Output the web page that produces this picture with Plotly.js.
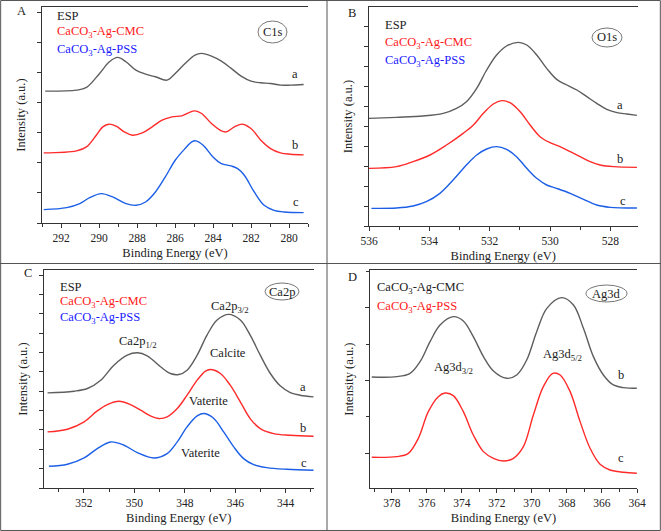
<!DOCTYPE html>
<html><head><meta charset="utf-8">
<script src="https://cdn.plot.ly/plotly-3.0.1.min.js"></script>
<style>html,body{margin:0;padding:0;background:#fff}#chart{width:661px;height:531px}</style>
</head><body><div id="chart"></div>
<script>
// ---------- Panel A : C1s ----------
const c1s_E_a = [292.83,291.18,290.66,289.97,289.45,289.02,288.58,288.06,287.55,287.03,286.42,285.99,285.47,284.95,284.60,284.08,283.56,283.04,282.52,282.00,281.48,280.97,280.45,279.93,279.23];
const c1s_I_a = [395,398,406,448,483,496,483,458,446,438,428,448,478,503,508,500,485,463,440,425,420,418,413,413,415];
const c1s_E_b = [292.91,291.18,290.66,290.14,289.80,289.48,289.10,288.67,288.24,287.72,287.20,286.68,286.16,285.64,285.29,284.95,284.60,284.08,283.56,283.30,282.87,282.44,282.00,281.48,280.97,280.45,279.93,279.23];
const c1s_I_b = [210,216,228,263,288,296,290,273,263,270,288,308,318,321,330,336,328,298,276,273,288,296,283,248,223,210,206,204];
const c1s_E_c = [292.91,291.70,291.01,290.49,289.88,289.28,288.58,288.06,287.55,287.03,286.51,285.99,285.47,285.12,284.90,284.52,284.00,283.56,283.04,282.70,282.35,281.83,281.31,280.79,280.27,279.23];
const c1s_I_c = [40,46,58,76,88,78,58,53,63,93,138,188,223,243,246,233,198,178,171,163,143,93,53,38,33,31];

// ---------- Panel B : O1s ----------
const o1s_E_a = [536.00,535.09,534.21,533.54,533.10,532.77,532.43,532.10,531.77,531.44,531.05,530.77,530.44,530.11,529.78,529.44,529.11,528.78,528.45,528.12,527.78,527.45,527.12];
const o1s_I_a = [323,326,330,338,353,373,413,468,513,540,551,543,513,473,440,423,408,388,368,350,340,336,332];
const o1s_E_b = [536.00,535.09,534.54,533.98,533.43,532.88,532.54,532.21,531.88,531.60,531.33,530.99,530.66,530.33,530.00,529.67,529.33,529.00,528.67,528.34,527.89,527.12];
const o1s_I_b = [173,178,193,213,243,278,303,338,366,376,370,343,303,268,250,238,223,208,193,183,178,176];
const o1s_E_c = [535.92,535.09,534.54,534.10,533.65,533.21,532.77,532.43,532.10,531.77,531.44,531.11,530.77,530.44,530.11,529.78,529.33,528.89,528.45,528.00,527.12];
const o1s_I_c = [53,54,60,73,98,138,183,213,231,238,230,208,173,143,123,113,98,80,63,56,54];

// ---------- Panel C : Ca2p ----------
const ca_E_a = [353.44,352.39,351.86,351.33,350.81,350.28,349.88,349.49,348.96,348.57,348.24,347.91,347.51,347.12,346.72,346.26,345.80,345.41,345.01,344.61,344.22,343.82,343.43,342.90];
const ca_I_a = [285,290,298,323,368,398,405,396,363,343,340,353,398,458,503,520,503,458,398,343,306,286,278,273];
const ca_E_b = [353.44,352.65,351.99,351.47,351.07,350.61,350.15,349.75,349.36,349.03,348.70,348.30,347.91,347.51,347.18,346.99,346.59,346.20,345.80,345.41,345.01,344.48,343.82,342.90];
const ca_I_b = [168,176,198,231,250,260,250,233,216,208,213,238,278,323,350,355,343,308,258,208,178,163,158,155];
const ca_E_c = [353.38,352.65,351.99,351.47,350.94,350.41,349.88,349.23,348.70,348.30,347.91,347.51,347.22,346.85,346.46,346.06,345.67,345.27,344.75,343.96,342.90];
const ca_I_c = [65,71,90,118,138,128,106,90,103,138,183,216,223,208,168,123,88,70,61,56,53];

// ---------- Panel D : Ag3d ----------
const ag_E_b = [379.15,377.73,376.96,376.39,375.82,375.25,374.49,373.92,373.35,372.77,372.20,371.44,370.87,370.30,369.73,369.15,368.30,367.63,367.06,366.49,365.92,365.35,364.77,364.01];
const ag_I_b = [334,335,345,380,440,490,515,502,455,395,352,330,340,385,470,540,572,550,480,395,340,310,302,300];
const ag_E_c = [379.15,377.73,377.06,376.49,375.92,375.35,374.96,374.49,373.92,373.35,372.77,372.20,371.63,371.06,370.49,369.92,369.35,368.81,368.39,367.82,367.25,366.68,366.11,365.54,364.77,364.01];
const ag_I_c = [93,95,105,150,230,275,286,278,230,160,110,90,82,90,125,220,305,345,340,290,200,120,72,55,48,45];

// ---------- text ----------
const xTitle = 'Binding Energy (eV)';
const yTitle = 'Intensity (a.u.)';
const legA = ['ESP','CaCO<sub>3</sub>-Ag-CMC','CaCO<sub>3</sub>-Ag-PSS'];
const legD = ['CaCO<sub>3</sub>-Ag-CMC','CaCO<sub>3</sub>-Ag-PSS'];

const GRAY='#5e5e5e', RED='#ff2b2b', BLUE='#1c5fe6';
const SERIF='Liberation Serif';
const W=661, H=531;
function px(x){return x/W;} function py(y){return 1-y/H;}

function tr(x,y,c,xa,ya){return {x:x,y:y,xaxis:xa,yaxis:ya,mode:'lines',line:{color:c,width:1.4,shape:'spline',smoothing:1},hoverinfo:'skip',showlegend:false};}

const data=[
 tr(c1s_E_a,c1s_I_a,GRAY,'x','y'),tr(c1s_E_b,c1s_I_b,RED,'x','y'),tr(c1s_E_c,c1s_I_c,BLUE,'x','y'),
 tr(o1s_E_a,o1s_I_a,GRAY,'x2','y2'),tr(o1s_E_b,o1s_I_b,RED,'x2','y2'),tr(o1s_E_c,o1s_I_c,BLUE,'x2','y2'),
 tr(ca_E_a,ca_I_a,GRAY,'x3','y3'),tr(ca_E_b,ca_I_b,RED,'x3','y3'),tr(ca_E_c,ca_I_c,BLUE,'x3','y3'),
 tr(ag_E_b,ag_I_b,GRAY,'x4','y4'),tr(ag_E_c,ag_I_c,RED,'x4','y4')
];

const AX='#333';
function xax(l,r,range,anchor){return {domain:[px(l),px(r)],range:range,anchor:anchor,dtick:2,tick0:0,ticks:'outside',ticklen:4,tickwidth:1,tickcolor:AX,
  minor:{dtick:1,tick0:0,ticks:'outside',ticklen:3,tickwidth:1,tickcolor:AX},
  showline:true,linecolor:AX,linewidth:1,mirror:true,showgrid:false,zeroline:false,
  tickfont:{family:SERIF,size:11.5,color:'#222'},title:{text:xTitle,font:{family:SERIF,size:12.5,color:'#222'},standoff:5}};}
function yax(b,t,R,anchor,dt,t0,minor){const o={domain:[py(b),py(t)],range:[0,R],anchor:anchor,dtick:dt,tick0:t0,ticks:'outside',ticklen:4,tickwidth:1,tickcolor:AX,
  showticklabels:false,showline:true,linecolor:AX,linewidth:1,showgrid:false,zeroline:false,
  title:{text:yTitle,font:{family:SERIF,size:12.5,color:'#222'},standoff:8}};
  if(minor) o.minor=minor; return o;}
function yr(over,anchor,R,dt){return {overlaying:over,side:'right',anchor:anchor,range:[0,R],dtick:dt,tick0:0,ticks:'outside',ticklen:3,tickwidth:1,tickcolor:AX,
  showticklabels:false,showline:true,linecolor:AX,linewidth:1,showgrid:false,zeroline:false};}

function ann(x,y,text,color,opts){return Object.assign({xref:'paper',yref:'paper',x:px(x),y:py(y),text:text,showarrow:false,
  font:{family:SERIF,size:12.5,color:color||'#222'},xanchor:'left',yanchor:'middle'},opts||{});}
function ctr(x,y,text,color){return ann(x,y,text,color,{xanchor:'center'});}
function ell(x0,x1,y0,y1){return {type:'circle',xref:'paper',yref:'paper',x0:px(x0),x1:px(x1),y0:py(y1),y1:py(y0),line:{color:'#777',width:1}};}

const layout={
 width:W,height:H,margin:{l:0,r:0,t:0,b:0},paper_bgcolor:'#fff',plot_bgcolor:'rgba(0,0,0,0)',showlegend:false,
 font:{family:SERIF},
 xaxis:xax(42,308,[293,279],'y'),
 yaxis:yax(223,7,647,'x',90,0),
 xaxis2:xax(369,637.5,[536,527.1],'y2'),
 yaxis2:yax(226,7,657,'x2',60,0),
 xaxis3:xax(43.5,314,[353.6,342.88],'y3'),
 yaxis3:yax(488,270,653,'x3',58,0),
 xaxis4:xax(370,637,[379.25,364],'y4'),
 yaxis4:yax(488.3,270,655,'x4',218,105,{dtick:109,tick0:105,ticks:'outside',ticklen:3,tickwidth:1,tickcolor:AX}),
 yaxis5:yr('y','x',647,65),
 yaxis6:yr('y2','x2',657,65.5),
 yaxis7:yr('y3','x3',653,66),
 yaxis8:yr('y4','x4',655,65),
 shapes:[
  {type:'rect',xref:'paper',yref:'paper',x0:0.001,x1:0.999,y0:0.001,y1:0.999,line:{color:'#555',width:1}},
  {type:'line',xref:'paper',yref:'paper',x0:px(327),x1:px(327),y0:0,y1:1,line:{color:'#555',width:1}},
  {type:'line',xref:'paper',yref:'paper',x0:0,x1:1,y0:py(263.5),y1:py(263.5),line:{color:'#555',width:1}},
  ell(258,287,21,43), ell(592,622,28,47), ell(265,299,283,300), ell(586,627,285,302)
 ],
 annotations:[
  // Panel A
  ctr(21.5,11,'A'),
  ann(55,16,legA[0],'#222'),ann(55,32,legA[1],'#ff1a1a'),ann(55,50,legA[2],'#1a1aff'),
  ctr(272.5,32,'C1s'),
  ctr(295,74,'a'),ctr(295,145,'b'),ctr(296,202,'c'),
  // Panel B
  ctr(352,13,'B'),
  ann(383,25,legA[0],'#222'),ann(383,43,legA[1],'#ff1a1a'),ann(383,61,legA[2],'#1a1aff'),
  ctr(607,37.5,'O1s'),
  ctr(620,105,'a'),ctr(620,159,'b'),ctr(623,201,'c'),
  // Panel C
  ctr(28,273,'C'),
  ann(58,287,legA[0],'#222'),ann(58,302,legA[1],'#ff1a1a'),ann(58,318,legA[2],'#1a1aff'),
  ctr(282,291.5,'Ca2p'),
  ctr(230,307,'Ca2p<sub>3/2</sub>'),ctr(138,342,'Ca2p<sub>1/2</sub>'),
  ctr(228,353,'Calcite'),ctr(208,401,'Vaterite'),ctr(201,453,'Vaterite'),
  ctr(303,387,'a'),ctr(303,428,'b'),ctr(304,463,'c'),
  // Panel D
  ctr(352,277,'D'),
  ann(375,288,legD[0],'#222'),ann(375,307,legD[1],'#ff1a1a'),
  ctr(606.5,293.5,'Ag3d'),
  ctr(562,355,'Ag3d<sub>5/2</sub>'),ctr(453,368,'Ag3d<sub>3/2</sub>'),
  ctr(621,375,'b'),ctr(621,458,'c')
 ]
};
Plotly.newPlot('chart',data,layout,{displayModeBar:false,staticPlot:true});
</script></body></html>
